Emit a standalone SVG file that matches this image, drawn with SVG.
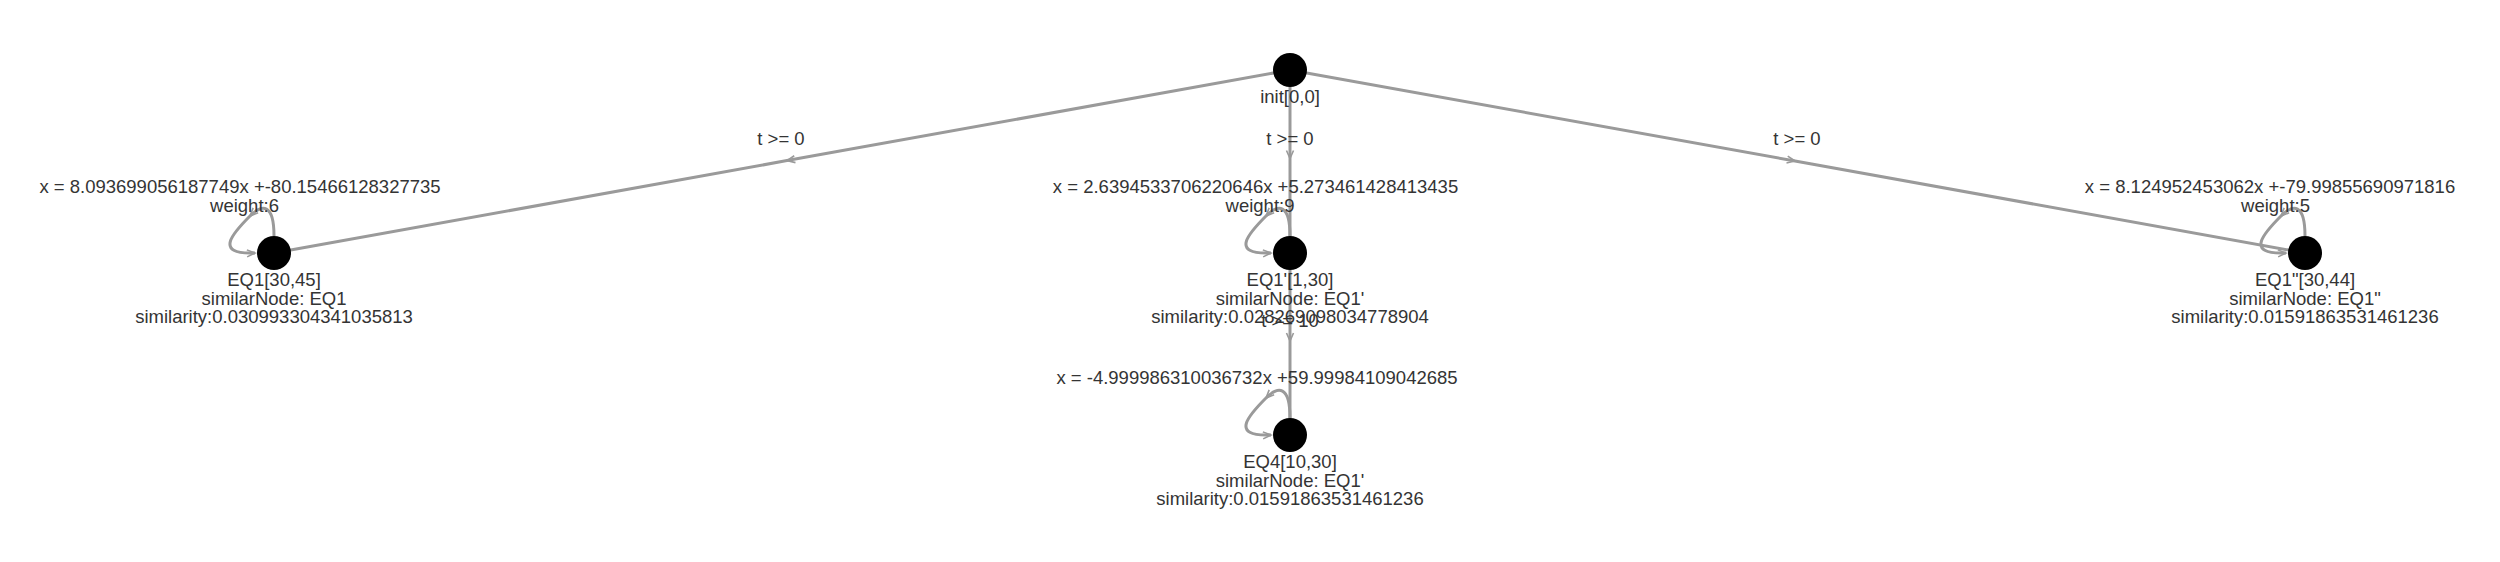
<svg xmlns="http://www.w3.org/2000/svg" width="2500" height="562" viewBox="0 0 2500 562">
<style>
text{font-family:"Liberation Sans",Arial,sans-serif;font-size:18.5px;fill:#343434;text-anchor:middle}
.edge{fill:none;stroke:#9a9a9a;stroke-width:3}
.node{fill:#000}
</style>
<defs>
<marker id="chev" markerUnits="userSpaceOnUse" markerWidth="12" markerHeight="12" viewBox="-10 -6 12 12" refX="0" refY="0" orient="auto" overflow="visible">
<path d="M-8,-3.5 L0,0 L-8,3.5" fill="none" stroke="#9a9a9a" stroke-width="1.6"/>
</marker>
</defs>
<rect width="2500" height="562" fill="#fff"/>
<g id="connectors">
<path class="edge" d="M1290,70 L787,160.6 L274,253" marker-mid="url(#chev)"/>
<path class="edge" d="M1290,70 L1290,158.5 L1290,253" marker-mid="url(#chev)"/>
<path class="edge" d="M1290,70 L1795,161 L2305,253" marker-mid="url(#chev)"/>
<path class="edge" d="M1290,253 L1290,341 L1290,435" marker-mid="url(#chev)"/>
<path class="edge" transform="translate(274,253)" d="M0,-17 C0,-50 -12,-49 -24,-37 C-40,-21 -62,2 -19,0" marker-mid="url(#chev)" marker-end="url(#chev)"/>
<path class="edge" transform="translate(1290,253)" d="M0,-17 C0,-50 -12,-49 -24,-37 C-40,-21 -62,2 -19,0" marker-mid="url(#chev)" marker-end="url(#chev)"/>
<path class="edge" transform="translate(2305,253)" d="M0,-17 C0,-50 -12,-49 -24,-37 C-40,-21 -62,2 -19,0" marker-mid="url(#chev)" marker-end="url(#chev)"/>
<path class="edge" transform="translate(1290,435)" d="M0,-17 C0,-50 -12,-49 -24,-37 C-40,-21 -62,2 -19,0" marker-mid="url(#chev)" marker-end="url(#chev)"/>
<text x="781" y="145">t &gt;= 0</text>
<text x="1290" y="145">t &gt;= 0</text>
<text x="1797" y="145">t &gt;= 0</text>
<text x="1290" y="327">t &gt;= 10</text>
<text x="240" y="193">x = 8.093699056187749x +-80.15466128327735</text>
<text x="244.5" y="211.5">weight:6</text>
<text x="1255.5" y="193">x = 2.6394533706220646x +5.273461428413435</text>
<text x="1260" y="211.5">weight:9</text>
<text x="2270" y="193">x = 8.124952453062x +-79.99855690971816</text>
<text x="2275.5" y="211.5">weight:5</text>
<text x="1257" y="384">x = -4.999986310036732x +59.99984109042685</text>
</g>
<g id="init">
<circle class="node" cx="1290" cy="70" r="17"/>
<text x="1290" y="103">init[0,0]</text>
</g>
<g id="EQ1">
<circle class="node" cx="274" cy="253" r="17"/>
<text x="274" y="286">EQ1[30,45]</text>
<text x="274" y="304.5">similarNode: EQ1</text>
<text x="274" y="323">similarity:0.030993304341035813</text>
</g>
<g id="EQ1p">
<circle class="node" cx="1290" cy="253" r="17"/>
<text x="1290" y="286">EQ1'[1,30]</text>
<text x="1290" y="304.5">similarNode: EQ1'</text>
<text x="1290" y="323">similarity:0.028269098034778904</text>
</g>
<g id="EQ1pp">
<circle class="node" cx="2305" cy="253" r="17"/>
<text x="2305" y="286">EQ1"[30,44]</text>
<text x="2305" y="304.5">similarNode: EQ1"</text>
<text x="2305" y="323">similarity:0.01591863531461236</text>
</g>
<g id="EQ4">
<circle class="node" cx="1290" cy="435" r="17"/>
<text x="1290" y="468">EQ4[10,30]</text>
<text x="1290" y="486.5">similarNode: EQ1'</text>
<text x="1290" y="505">similarity:0.01591863531461236</text>
</g>
</svg>
